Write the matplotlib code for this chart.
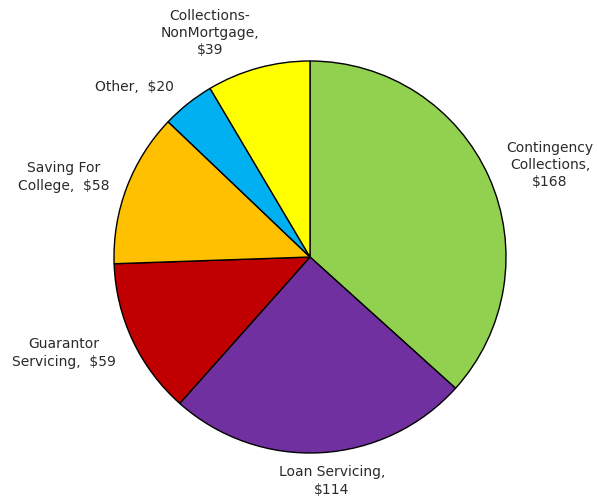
import matplotlib
matplotlib.use("Agg")
import matplotlib.pyplot as plt

labels = ["Contingency\nCollections,\n$168", "Loan Servicing,\n$114", "Guarantor\nServicing,  $59",
          "Saving For\nCollege,  $58", "Other,  $20", "Collections-\nNonMortgage,\n$39"]
values = [168, 114, 59, 58, 20, 39]
colors = ["#92D050", "#7030A0", "#C00000", "#FFC000", "#00B0F0", "#FFFF00"]
# label anchor positions (pixel layout, y from top)
label_pos = [(550, 165), (332, 481), (64, 353), (64, 177), (134, 87), (210, 33)]

fig = plt.figure(figsize=(5.97, 5.00), dpi=100)
ax = fig.add_axes([0, 0, 1, 1])
ax.set_xlim(0, 597)
ax.set_ylim(0, 500)
ax.set_aspect("equal")
ax.axis("off")

ax.pie(values, colors=colors, startangle=90, counterclock=False,
       center=(310, 500 - 257), radius=196,
       wedgeprops=dict(edgecolor="black", linewidth=1.0))
ax.set_xlim(0, 597)
ax.set_ylim(0, 500)

for lab, (x, y) in zip(labels, label_pos):
    ax.text(x, 500 - y, lab, ha="center", va="center", fontsize=10,
            color="#2a2a2a", linespacing=1.3, family="DejaVu Sans")

fig.savefig("out.png", dpi=100)
